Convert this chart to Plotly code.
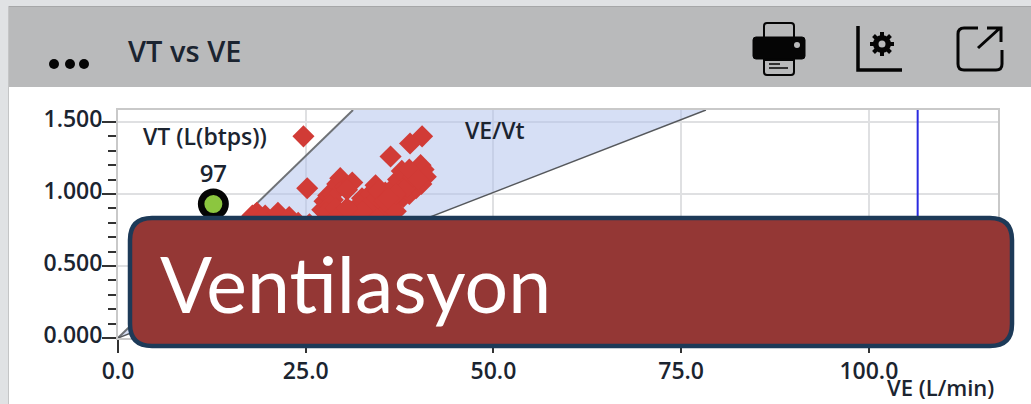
import math
import plotly.graph_objects as go

W, H = 1031, 404

# readings from the chart
ve = [24.7, 40.5, 38.9, 36.3, 25.2,
      18.5, 17.9, 19.6, 21.3, 22.8, 24.0, 25.5,
      27.2, 27.5, 28.0, 28.6, 29.2, 29.6, 30.3, 31.2, 30.5, 28.6, 28.2, 27.7,
      29.0, 30.0, 31.0, 32.0, 32.5, 33.0, 33.6, 34.3,
      35.0, 35.6, 36.3, 36.8, 37.3, 37.8, 38.4, 39.0, 39.7, 40.3, 40.7, 41.0, 40.4, 39.7, 38.8, 38.0,
      37.0, 36.0, 35.0, 34.0, 33.0, 32.0, 36.0, 35.0, 37.0, 34.0, 31.0, 29.0,
      33.0, 34.7, 35.5, 37.5, 38.5, 39.3, 38.8, 40.0, 37.0, 36.0, 32.5, 30.5]
vt = [1.40, 1.40, 1.35, 1.26, 1.04,
      0.87, 0.85, 0.85, 0.87, 0.84, 0.80, 0.79,
      0.89, 0.95, 0.99, 1.00, 1.07, 1.11, 1.05, 1.08, 1.03, 0.96, 0.92, 0.87,
      0.90, 0.86, 0.88, 0.92, 0.97, 0.96, 1.00, 1.06,
      0.98, 1.01, 1.00, 1.05, 1.10, 1.16, 1.12, 1.09, 1.14, 1.20, 1.17, 1.12, 1.07, 1.04, 1.00, 0.98,
      0.95, 0.93, 0.90, 0.94, 0.88, 0.84, 0.85, 0.84, 0.88, 0.85, 0.82, 0.83,
      0.90, 1.02, 0.95, 1.02, 1.05, 1.12, 1.17, 1.10, 1.00, 0.97, 0.88, 0.90]
band_ve = [0, 31.3, 78.3, 0]
band_vt = [0, 1.583, 1.583, 0]
upper_ve = [0, 31.3]
lower_ve = [0, 78.3]
edge_vt = [0, 1.583]
current_ve = [12.7]
current_vt = [0.93]
current_label = ["97"]
vat_ve = [106.5, 106.5]
vat_vt = [0, 1.583]
x_ticks = [0, 25, 50, 75, 100]
x_labels = ["0.0", "25.0", "50.0", "75.0", "100.0"]
y_ticks = [0, 0.5, 1.0, 1.5]
y_labels = ["0.000", "0.500", "1.000", "1.500"]

TEXT = "#1b2430"
FONT = "Open Sans"


def px(x):
    return x / W


def py(y):
    return 1 - y / H


def rect(x0, y0, x1, y1, color, **kw):
    return dict(type="rect", xref="paper", yref="paper", x0=px(x0), x1=px(x1), y0=py(y0), y1=py(y1),
                fillcolor=color, line=dict(width=0), **kw)


def path(points, color, width=3, fill=None, layer="above"):
    # points are page pixels, a string like "M x y L x y"
    out = points.split()
    res = []
    i = 0
    while i < len(out):
        if out[i] in ("M", "L"):
            res.append(f"{out[i]} {px(float(out[i+1]))} {py(float(out[i+2]))}")
            i += 3
        elif out[i] == "Q":
            res.append(f"Q {px(float(out[i+1]))} {py(float(out[i+2]))} {px(float(out[i+3]))} {py(float(out[i+4]))}")
            i += 5
        else:
            res.append("Z")
            i += 1
    return dict(type="path", xref="paper", yref="paper", path=" ".join(res), layer=layer,
                fillcolor=fill if fill else "rgba(0,0,0,0)",
                line=dict(color=color, width=width))


def circle(cx, cy, r, color, line_color=None, line_width=0):
    return dict(type="circle", xref="paper", yref="paper", x0=px(cx - r), x1=px(cx + r),
                y0=py(cy + r), y1=py(cy - r), fillcolor=color,
                line=dict(color=line_color or color, width=line_width))


fig = go.Figure()
fig.add_trace(go.Scatter(x=band_ve, y=band_vt, mode="lines", fill="toself", fillcolor="rgba(176,194,235,0.52)",
                         line=dict(width=0), hoverinfo="skip"))
fig.add_trace(go.Scatter(x=upper_ve, y=edge_vt, mode="lines", line=dict(color="#6f7276", width=2), hoverinfo="skip"))
fig.add_trace(go.Scatter(x=lower_ve, y=edge_vt, mode="lines", line=dict(color="#55585c", width=1.5), hoverinfo="skip"))
fig.add_trace(go.Scatter(x=vat_ve, y=vat_vt, mode="lines", line=dict(color="#2a2ae0", width=2), hoverinfo="skip"))
fig.add_trace(go.Scatter(x=ve, y=vt, mode="markers", marker=dict(symbol="diamond", size=17, color="#d13b36")))
fig.add_trace(go.Scatter(x=current_ve, y=current_vt, mode="markers+text", text=current_label,
                         textposition="top center", textfont=dict(family=FONT, size=24, color=TEXT, weight=600),
                         marker=dict(size=24.5, color="#8cc63f", line=dict(color="#050505", width=6.5))))

shapes = [
    rect(0, 0, W, 6, "#e0e2e4", layer="below"),
    rect(0, 0, 8, H, "#e0e2e4", layer="below"),
    rect(8, 6, W, 7, "#a6a7a8", layer="below"),
    rect(8, 6, 9, H, "#c4c5c6", layer="below"),
    rect(9, 7, W, 87, "#b9babb", layer="below"),
    circle(54, 64, 5, "#050505"),
    circle(70, 64, 5, "#050505"),
    circle(84, 64, 5, "#050505"),
    # printer
    path("M 764 37 L 764 26 Q 764 23 767 23 L 791 23 Q 794 23 794 26 L 794 37", "#050505", 2),
    path("M 756 37 L 802 37 Q 805 37 805 40 L 805 56 Q 805 59 802 59 L 756 59 Q 753 59 753 56 L 753 40 Q 753 37 756 37 Z",
         "#050505", 1, "#050505"),
    circle(797, 45, 3, "#b9babb"),
    path("M 764 60 L 764 72 Q 764 75 767 75 L 791 75 Q 794 75 794 72 L 794 60 Z", "#050505", 2),
    path("M 769 64 L 780 64 M 769 68 L 788 68", "#050505", 1.5),
    # chart settings
    path("M 858 26 L 858 70 L 902 70", "#050505", 3.5),
    # external link
    path("M 978 28 L 964 28 Q 958 28 958 34 L 958 64 Q 958 70 964 70 L 996 70 Q 1002 70 1002 64 L 1002 50", "#050505", 3),
    path("M 978 48 L 1000 28 M 987 28 L 1001 28 L 1001 42", "#050505", 3),
]
# gear teeth around the small wheel
for k in range(4):
    a = k * math.pi / 4
    shapes.append(path(f"M {882 - 12 * math.cos(a)} {44 - 12 * math.sin(a)} L {882 + 12 * math.cos(a)} {44 + 12 * math.sin(a)}",
                       "#050505", 4))
shapes.append(circle(882, 44, 9, "#050505"))
shapes.append(circle(882, 44, 3.5, "#b9babb"))
# the caption box that sits over the chart
shapes.append(path("M 152 218 L 990 218 Q 1012 218 1012 240 L 1012 324 Q 1012 346 990 346 L 152 346 "
                   "Q 130 346 130 324 L 130 240 Q 130 218 152 218 Z", "#1d3a58", 4.5, "#943735"))


def note(x, y, text, size, color=TEXT, family=FONT, weight=600, anchor="left"):
    return dict(xref="paper", yref="paper", x=px(x), y=py(y), text=text, showarrow=False, xanchor=anchor,
                yanchor="middle", font=dict(family=family, size=size, color=color, weight=weight))


annotations = [
    note(126, 50, "VT vs VE", 29),
    note(141, 136, "VT (L(btps))", 23),
    note(463, 130, "VE/Vt", 23),
    note(885, 387, "VE (L/min)", 22),
    note(158, 283, "Ventilasyon", 77, color="#ffffff", family="Lato", weight=400),
]

axis_font = dict(family=FONT, size=23, color=TEXT, weight=600)
fig.update_layout(
    width=W, height=H, margin=dict(l=0, r=0, t=0, b=0), autosize=False,
    paper_bgcolor="#ffffff", plot_bgcolor="#ffffff", showlegend=False,
    shapes=shapes, annotations=annotations,
    xaxis=dict(domain=[px(118), px(998)], range=[0, 117.2], tickmode="array", tickvals=x_ticks, ticktext=x_labels,
               automargin=False, ticks="outside", ticklen=13, tickwidth=2, tickcolor="#333333", ticklabelstandoff=-2,
               tickfont=axis_font,
               showgrid=True, gridcolor="#dfe0e2", gridwidth=2, zeroline=False,
               showline=True, linecolor="#c9c9c9", linewidth=2, mirror=True),
    yaxis=dict(domain=[py(338), py(110)], range=[0, 1.583], tickmode="array", tickvals=y_ticks, ticktext=y_labels,
               automargin=False, ticks="outside", ticklen=14, tickwidth=2, tickcolor="#333333", ticklabelstandoff=-5,
               ticklabelshift=-3, tickfont=axis_font,
               minor=dict(dtick=0.1, ticks="outside", ticklen=8, tickwidth=2, tickcolor="#333333", showgrid=False),
               showgrid=True, gridcolor="#dfe0e2", gridwidth=2, zeroline=False,
               showline=True, linecolor="#c9c9c9", linewidth=2, mirror=True),
)

fig.write_html("out.html", config=dict(displayModeBar=False),
               post_script="document.body.style.margin='0';document.body.style.overflow='hidden';")
